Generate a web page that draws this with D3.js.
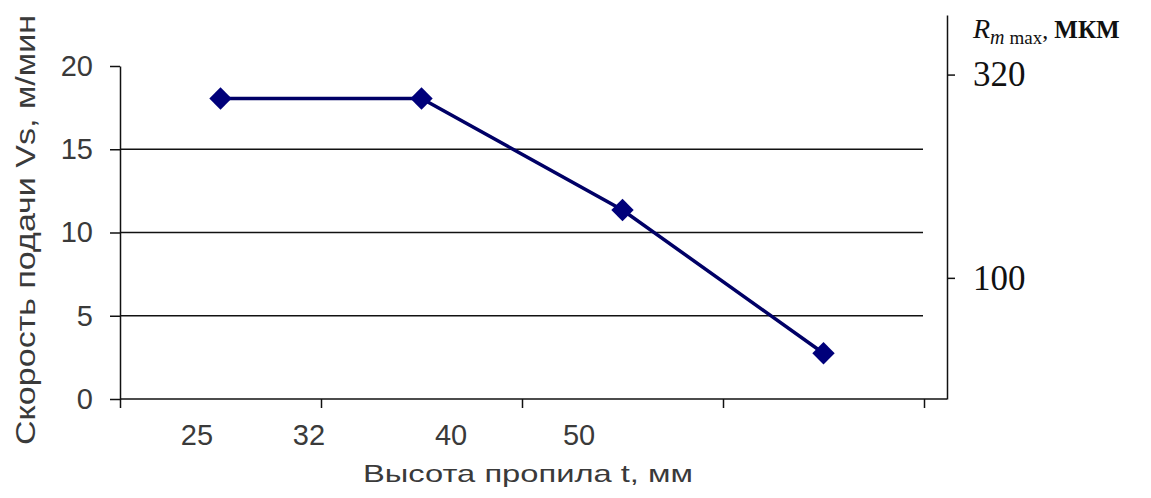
<!DOCTYPE html>
<html>
<head>
<meta charset="utf-8">
<script src="https://cdn.jsdelivr.net/npm/d3@7"></script>
<style>
  body { margin: 0; background: #fff; }
</style>
</head>
<body>
<script>
var categories = [0, 1, 2, 3];
var speed = [18.05, 18.05, 11.35, 2.75];
var leftTicks = [0, 5, 10, 15, 20];
var gridTicks = [5, 10, 15];
var edgeTicks = [0, 1, 2, 3, 4];
var heightLabels = ['25', '32', '40', '50'];
var heightLabelAt = [0.383, 0.94, 1.647, 2.284];
var roughTicks = [100, 320];

var width = 1151,
    height = 498;

var sans = '"Liberation Sans", Arial, sans-serif',
    serif = '"Liberation Serif", "Times New Roman", serif';

var svg = d3.select('body')
    .append('svg')
    .attr('width', width)
    .attr('height', height)
    .style('font-family', sans)

var plotLeft = 120, plotRight = 924, rightAxisX = 947,
    plotBottom = 399, plotTop = 66;

var x = d3.scaleBand()
    .domain(categories)
    .range([plotLeft, plotRight])
var xEdge = d3.scaleLinear()
    .domain([0, 4])
    .range([plotLeft, plotRight])
var y = d3.scaleLinear()
    .domain([0, 20])
    .range([plotBottom, plotTop])
var r = d3.scaleLog()
    .domain([50, 450])
    .range([plotBottom, 15])

// grid lines
svg.append('g')
    .selectAll('line')
    .data(gridTicks)
    .join('line')
    .attr('x1', plotLeft)
    .attr('x2', plotRight - 1)
    .attr('y1', d => y(d))
    .attr('y2', d => y(d))
    .attr('stroke', '#111')
    .attr('stroke-width', 1.5)

// left axis
var yAxis = d3.axisLeft(y)
    .tickValues(leftTicks)
    .tickSizeInner(10)
    .tickSizeOuter(0)
    .tickPadding(17)
var gy = svg.append('g')
    .attr('transform', `translate(${plotLeft},0)`)
    .call(yAxis)
gy.selectAll('text')
    .style('font-size', '29px')
    .style('font-family', sans)
    .attr('fill', '#3a3a3a')

// bottom axis (ticks at category edges)
var xAxis = d3.axisBottom(xEdge)
    .tickValues(edgeTicks)
    .tickFormat('')
    .tickSizeInner(9)
    .tickSizeOuter(0)
var gx = svg.append('g')
    .attr('transform', `translate(0,${plotBottom})`)
    .call(xAxis)
gx.select('.domain').remove()
svg.append('line')
    .attr('x1', plotLeft).attr('x2', rightAxisX)
    .attr('y1', plotBottom).attr('y2', plotBottom)
    .attr('stroke', '#111').attr('stroke-width', 1.5)

svg.append('g')
    .selectAll('text')
    .data(heightLabels)
    .join('text')
    .attr('x', (d, i) => xEdge(heightLabelAt[i]))
    .attr('y', 445)
    .attr('text-anchor', 'middle')
    .style('font-size', '29px')
    .attr('fill', '#3a3a3a')
    .text(d => d)

// right axis
var rAxis = d3.axisRight(r)
    .tickValues(roughTicks)
    .tickFormat(d3.format('d'))
    .tickSizeInner(8)
    .tickSizeOuter(0)
    .tickPadding(18)
var gr = svg.append('g')
    .attr('transform', `translate(${rightAxisX},0)`)
    .call(rAxis)
gr.selectAll('text')
    .style('font-size', '35px')
    .style('font-family', serif)
    .attr('fill', '#111')

svg.selectAll('.domain, .tick line')
    .attr('stroke', '#111')
    .attr('stroke-width', 1.5)

// right axis title
var rt = svg.append('text')
    .attr('x', 973)
    .attr('y', 38)
    .style('font-family', serif)
    .attr('fill', '#111')
rt.append('tspan').style('font-size', '28px').style('font-style', 'italic').text('R')
rt.append('tspan').style('font-size', '20px').style('font-style', 'italic').attr('dy', 6).text('m')
rt.append('tspan').style('font-size', '19px').attr('dx', 5).text('max')
rt.append('tspan').style('font-size', '24px').attr('dy', -6).text(', ')
rt.append('tspan').style('font-size', '25px').style('font-weight', 'bold').text('МКМ')

// axis titles
svg.append('text')
    .attr('transform', `translate(35,230) rotate(-90)`)
    .attr('text-anchor', 'middle')
    .style('font-size', '27px')
    .attr('fill', '#3a3a3a')
    .attr('textLength', 430)
    .attr('lengthAdjust', 'spacingAndGlyphs')
    .text('Скорость подачи Vs, м/мин')

svg.append('text')
    .attr('x', 528)
    .attr('y', 482)
    .attr('text-anchor', 'middle')
    .style('font-size', '24px')
    .attr('fill', '#3a3a3a')
    .attr('textLength', 330)
    .attr('lengthAdjust', 'spacingAndGlyphs')
    .text('Высота пропила t, мм')

// series
var line = d3.line()
    .x((d, i) => x(categories[i]) + x.bandwidth() / 2)
    .y(d => y(d))

svg.append('path')
    .attr('d', line(speed))
    .attr('fill', 'none')
    .attr('stroke', '#000066')
    .attr('stroke-width', 3.5)

svg.append('g')
    .selectAll('path')
    .data(speed)
    .join('path')
    .attr('d', d3.symbol(d3.symbolSquare, 250))
    .attr('transform', (d, i) => `translate(${x(categories[i]) + x.bandwidth() / 2},${y(d)}) rotate(45)`)
    .attr('fill', '#00007a')
</script>
</body>
</html>
